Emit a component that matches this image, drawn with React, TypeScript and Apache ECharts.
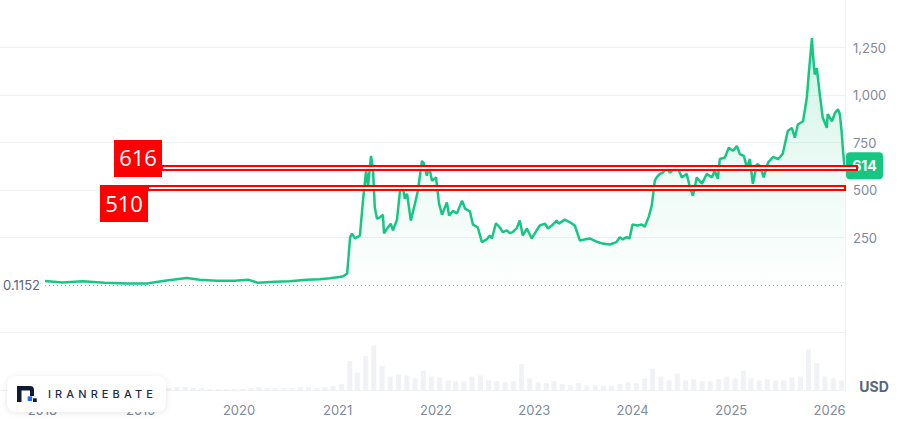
import React, { useEffect, useRef } from "react";
import * as echarts from "echarts";

// ---------- DATA ----------
const priceDates = [
  "2018-01-19", "2018-03-25", "2018-06-07", "2018-08-27", "2018-11-17",
  "2019-01-30", "2019-04-06", "2019-06-26", "2019-08-13", "2019-10-15", "2019-12-20",
  "2020-02-07", "2020-03-14", "2020-05-16", "2020-07-10", "2020-09-11", "2020-10-29", "2020-12-05",
  "2021-01-11", "2021-01-23", "2021-02-07", "2021-02-18", "2021-02-25", "2021-03-08", "2021-03-26",
  "2021-04-07", "2021-04-18", "2021-04-25", "2021-05-06", "2021-05-13", "2021-05-20", "2021-05-28",
  "2021-06-08", "2021-06-19", "2021-06-23", "2021-07-07", "2021-07-18", "2021-07-26", "2021-08-10",
  "2021-08-21", "2021-09-01", "2021-09-08", "2021-09-16", "2021-09-30", "2021-10-15", "2021-10-26",
  "2021-11-10", "2021-11-17", "2021-11-28", "2021-12-06", "2021-12-17",
  "2022-01-01", "2022-01-12", "2022-01-23", "2022-02-10", "2022-02-18", "2022-03-04", "2022-03-19",
  "2022-04-07", "2022-04-18", "2022-05-06", "2022-05-17", "2022-06-04", "2022-06-19", "2022-07-07",
  "2022-07-18", "2022-07-26", "2022-08-10", "2022-08-24", "2022-09-04", "2022-09-19", "2022-09-30",
  "2022-10-11", "2022-10-26", "2022-11-06", "2022-11-17", "2022-12-02", "2022-12-20",
  "2023-01-04", "2023-01-19", "2023-02-07", "2023-02-18", "2023-03-04", "2023-03-22", "2023-03-30",
  "2023-04-21", "2023-05-10", "2023-05-28", "2023-06-16", "2023-07-03", "2023-07-22", "2023-08-20",
  "2023-09-08", "2023-10-04", "2023-10-29", "2023-11-10", "2023-11-21", "2023-12-05", "2023-12-16",
  "2023-12-27",
  "2024-01-15", "2024-01-30", "2024-02-10", "2024-02-25", "2024-03-07", "2024-03-18", "2024-03-25",
  "2024-04-06", "2024-04-17", "2024-05-02", "2024-05-13", "2024-05-28", "2024-06-08", "2024-06-26",
  "2024-07-14", "2024-07-26", "2024-08-06", "2024-08-20", "2024-09-08", "2024-09-26", "2024-10-15",
  "2024-10-25", "2024-11-06", "2024-11-13", "2024-12-02", "2024-12-16",
  "2025-01-01", "2025-01-15", "2025-01-26", "2025-02-10", "2025-02-21", "2025-03-04", "2025-03-15",
  "2025-03-30", "2025-04-10", "2025-04-24", "2025-05-10", "2025-05-28", "2025-06-16", "2025-07-03",
  "2025-07-22", "2025-08-06", "2025-08-17", "2025-08-28", "2025-09-16", "2025-09-30", "2025-10-08",
  "2025-10-19", "2025-10-22", "2025-10-29", "2025-11-06", "2025-11-17", "2025-11-28", "2025-12-13",
  "2025-12-16",
  "2026-01-01", "2026-01-12", "2026-01-23", "2026-01-30", "2026-02-06", "2026-02-11", "2026-02-17",
];
const priceValues = [
  21, 13, 20, 12, 8,
  8, 22, 37, 28, 23, 22,
  28, 12, 17, 20, 28, 30, 35,
  42, 46, 61, 252, 270, 245, 260,
  454, 601, 522, 679, 618, 409, 349,
  356, 370, 272, 302, 323, 287, 344,
  496, 506, 454, 480, 339, 428, 496,
  653, 639, 575, 627, 548,
  566, 428, 370, 435, 365, 391, 377,
  444, 402, 388, 318, 304, 226, 240,
  260, 245, 325, 304, 278, 287, 273,
  278, 300, 339, 260, 297, 245,
  280, 313, 323, 297, 313, 339, 323,
  344, 330, 313, 234, 240, 245, 226,
  218, 213, 226, 252, 240, 252, 245,
  318,
  313, 318, 307, 360, 418, 548, 566,
  585, 592, 618, 592, 610, 627, 566,
  585, 513, 470, 566, 533, 585, 566,
  601, 559, 663, 671, 723,
  706, 732, 689, 679, 618, 663, 533,
  637, 627, 566, 644, 674, 663, 689,
  810, 827, 775, 845, 862, 984, 1124,
  1299, 1229, 1108, 1141, 1003, 880, 827,
  899,
  862, 906, 925, 899, 800, 700, 614,
];

// monthly volume (relative units), Jan 2018 .. Feb 2026
const volumeStartYear = 2018;
const volumeValues = [
  2, 2, 1, 1, 1, 1, 1, 1, 1, 1, 1, 1,
  1, 1, 2, 2, 3, 3, 2, 2, 1, 1, 1, 1,
  1, 2, 3, 2, 2, 2, 2, 3, 3, 2, 3, 4,
  6, 30, 18, 35, 46, 25, 14, 16, 15, 12, 20, 14,
  13, 10, 9, 9, 14, 15, 10, 9, 8, 9, 27, 12,
  8, 7, 9, 6, 5, 7, 5, 5, 4, 4, 6, 8,
  7, 12, 22, 14, 10, 17, 10, 11, 9, 9, 11, 14,
  12, 20, 12, 10, 11, 10, 10, 13, 14, 42, 28, 14,
  12, 10,
];

const xStart = "2017-08-06";
const xEnd = "2026-02-18";
const priceMin = 0;
const priceMax = 1500;
const priceInterval = 250;
const volumeMax = 60;
const basePrice = 0.1152;
const lastPrice = 614;
const levelValues = [616, 510];

// ---------- STYLE / LAYOUT ----------
const GREEN = "#16c784";
const GRID_LINE = "#eff2f5";
const LABEL = "#808a9d";
const FONT = "Inter, 'Noto Sans', sans-serif";
const levelLayout = [
  { boxX: 114, boxW: 48, boxDy: -28, boxH: 37, lineX0: 162, lineExtra: 12 },
  { boxX: 100, boxW: 48, boxDy: -3, boxH: 37, lineX0: 148, lineExtra: 0 },
];

const volumeDates = volumeValues.map((_, i) => {
  const y = volumeStartYear + Math.floor(i / 12);
  const m = (i % 12) + 1;
  return `${y}-${String(m).padStart(2, "0")}-15`;
});

export default function App() {
  const ref = useRef<HTMLDivElement>(null);

  useEffect(() => {
    document.body.style.margin = "0";
    const chart = echarts.init(ref.current!, null, { renderer: "svg" });
    const YEAR = 365 * 24 * 3600 * 1000;
    const hideColors = [
      "rgba(0,0,0,0)",
      ...Array((priceMax - priceMin) / priceInterval - 1).fill(GRID_LINE),
      "rgba(0,0,0,0)",
    ];

    const option: any = {
      animation: false,
      textStyle: { fontFamily: FONT },
      grid: [
        { left: 0, right: 55, top: 0, height: 285 },
        { left: 0, right: 55, top: 332, height: 58 },
      ],
      xAxis: [
        { type: "time", gridIndex: 0, min: xStart, max: xEnd, show: false },
        {
          type: "time",
          gridIndex: 1,
          min: xStart,
          max: xEnd,
          minInterval: YEAR,
          maxInterval: YEAR,
          axisLine: { show: false },
          axisTick: { show: false },
          splitLine: { show: false },
          axisLabel: {
            color: LABEL,
            fontSize: 13,
            margin: 13,
            fontFamily: FONT,
            hideOverlap: false,
            showMinLabel: false,
            showMaxLabel: false,
            formatter: (v: number) => {
              const d = new Date(v);
              return d.getMonth() === 0 && d.getDate() === 1 ? String(d.getFullYear()) : "";
            },
          },
        },
      ],
      yAxis: [
        {
          type: "value",
          gridIndex: 0,
          position: "right",
          min: priceMin,
          max: priceMax,
          interval: priceInterval,
          axisLine: { show: false },
          axisTick: { show: false },
          splitLine: { show: true, lineStyle: { color: hideColors, width: 1 } },
          axisLabel: {
            color: LABEL,
            fontSize: 13,
            margin: 8,
            fontFamily: FONT,
            formatter: (v: number) =>
              v === priceMin || v === priceMax ? "" : v.toLocaleString("en-US"),
          },
        },
        {
          type: "value",
          gridIndex: 1,
          position: "right",
          min: 0,
          max: volumeMax,
          interval: volumeMax,
          axisLine: { show: false },
          axisTick: { show: false },
          axisLabel: { show: false },
          splitLine: { show: true, lineStyle: { color: GRID_LINE, width: 1 } },
        },
      ],
      series: [
        {
          type: "bar",
          xAxisIndex: 1,
          yAxisIndex: 1,
          barWidth: 5,
          itemStyle: { color: "#f0f2f6" },
          data: volumeDates.map((d, i) => [d, volumeValues[i]]),
        },
        {
          type: "line",
          xAxisIndex: 0,
          yAxisIndex: 0,
          symbol: "none",
          lineStyle: { color: GREEN, width: 2.5 },
          areaStyle: {
            color: new echarts.graphic.LinearGradient(0, 0, 0, 1, [
              { offset: 0, color: "rgba(22,199,132,0.30)" },
              { offset: 0.55, color: "rgba(22,199,132,0.11)" },
              { offset: 1, color: "rgba(22,199,132,0.01)" },
            ]),
          },
          data: priceDates.map((d, i) => [d, priceValues[i]]),
          markLine: {
            silent: true,
            symbol: "none",
            lineStyle: { color: "#a6b0c3", type: [1, 3], width: 1 },
            label: {
              show: true,
              position: "start",
              distance: 5,
              color: "#58667e",
              fontSize: 13,
              fontFamily: FONT,
              formatter: String(basePrice),
            },
            data: [[{ coord: [priceDates[0], basePrice] }, { coord: [xEnd, basePrice] }]],
          },
        },
      ],
    };
    chart.setOption(option);

    const yPx = (v: number) => chart.convertToPixel({ yAxisIndex: 0 }, v) as number;
    const xRight = chart.convertToPixel({ xAxisIndex: 0 }, xEnd) as number;
    const volBase = chart.convertToPixel({ yAxisIndex: 1 }, 0) as number;

    const graphics: any[] = [];
    graphics.push({
      type: "line",
      shape: { x1: xRight + 0.5, y1: 0, x2: xRight + 0.5, y2: volBase + 2 },
      style: { stroke: GRID_LINE, lineWidth: 1 },
      z: 5,
    });
    const tagY = yPx(lastPrice);
    graphics.push({
      type: "rect",
      shape: { x: xRight + 1, y: tagY - 16, width: 37, height: 27, r: 4 },
      style: { fill: GREEN },
      z: 10,
    });
    graphics.push({
      type: "text",
      x: xRight + 19.5,
      y: tagY - 2.5,
      style: {
        text: String(lastPrice),
        fill: "#ffffff",
        fontSize: 14,
        fontWeight: "bold",
        fontFamily: FONT,
        align: "center",
        verticalAlign: "middle",
      },
      z: 11,
    });
    levelValues.forEach((lv, i) => {
      const L = levelLayout[i];
      const cy = yPx(lv);
      graphics.push({
        type: "rect",
        shape: { x: L.lineX0, y: cy - 2, width: xRight + L.lineExtra - L.lineX0, height: 4 },
        style: { fill: "rgba(255,255,255,0.85)", stroke: "#ff0000", lineWidth: 2 },
        z: 20,
      });
      graphics.push({
        type: "rect",
        shape: { x: L.boxX, y: cy + L.boxDy, width: L.boxW, height: L.boxH },
        style: { fill: "#ff0000" },
        z: 21,
      });
      graphics.push({
        type: "text",
        x: L.boxX + L.boxW / 2,
        y: cy + L.boxDy + L.boxH / 2 - 1,
        style: {
          text: String(lv),
          fill: "#ffffff",
          fontSize: 22,
          fontFamily: "'Open Sans', 'Noto Sans', sans-serif",
          align: "center",
          verticalAlign: "middle",
        },
        z: 22,
      });
    });
    graphics.push({
      type: "text",
      x: xRight + 29,
      y: volBase - 4,
      style: {
        text: "USD",
        fill: "#58667e",
        fontSize: 14,
        fontWeight: "bold",
        fontFamily: FONT,
        align: "center",
        verticalAlign: "middle",
      },
      z: 10,
    });
    chart.setOption({ graphic: graphics });

    return () => chart.dispose();
  }, []);

  return (
    <div style={{ position: "relative", width: 900, height: 421, background: "#fff" }}>
      <div ref={ref} style={{ width: 900, height: 421 }} />
      <div
        style={{
          position: "absolute",
          left: 7,
          top: 376,
          width: 159,
          height: 36,
          background: "#ffffff",
          borderRadius: 8,
          boxShadow: "0 1px 6px rgba(0,0,0,0.10)",
          display: "flex",
          alignItems: "center",
        }}
      >
        <svg width="21" height="17" viewBox="0 0 21 17" style={{ marginLeft: 10 }}>
          <path d="M0 0 H13 Q17 0 17 4 V10 H13 V4.5 H4.5 V16 H0 Z" fill="#0f1a33" />
          <rect x="10.7" y="10.3" width="4.4" height="4.7" fill="#1f6bff" />
          <rect x="16" y="12.3" width="3.8" height="3.7" fill="#0f1a33" />
        </svg>
        <span
          style={{
            marginLeft: 10,
            fontFamily: FONT,
            fontSize: 11,
            fontWeight: 500,
            letterSpacing: "4.1px",
            color: "#1b2b4b",
          }}
        >
          IRANREBATE
        </span>
      </div>
    </div>
  );
}
